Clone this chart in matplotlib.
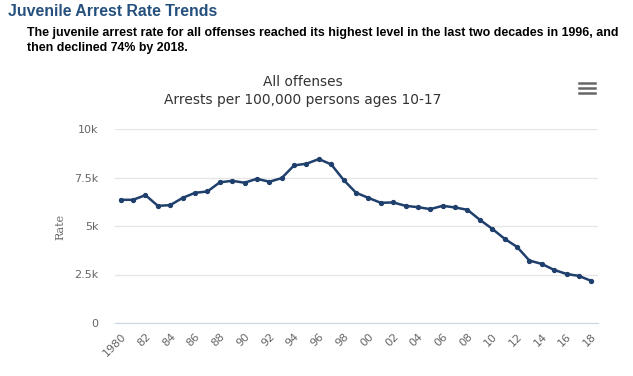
import matplotlib
matplotlib.use('Agg')
from matplotlib import pyplot as plt
from matplotlib.lines import Line2D

# data
years = list(range(1980, 2019))
rate = [6350, 6350, 6590, 6040, 6075, 6450, 6710, 6780, 7250, 7330,
        7230, 7435, 7280, 7470, 8125, 8210, 8450, 8175, 7375, 6715,
        6450, 6195, 6215, 6040, 5970, 5870, 6040, 5955, 5835, 5320,
        4855, 4340, 3925, 3220, 3045, 2735, 2530, 2425, 2170]
tick_years = list(range(1980, 2019, 2))
tick_labels = ['1980'] + ['%02d' % (y % 100) for y in tick_years[1:]]
y_ticks = [0, 2500, 5000, 7500, 10000]
y_labels = ['0', '2.5k', '5k', '7.5k', '10k']

W, H = 633, 376
fig = plt.figure(figsize=(W / 100, H / 100), dpi=100)

# axes placed in pixel coordinates
left, right, top, bottom = 115, 598, 129, 323
ax = fig.add_axes([left / W, 1 - bottom / H, (right - left) / W, (bottom - top) / H])

ax.plot(years, rate, color='#1f3f6d', lw=1.8, marker='o', ms=2.8, zorder=3)
ax.set_xlim(1979.54, 2018.54)
ax.set_ylim(0, 10000)

ax.set_yticks(y_ticks)
ax.set_yticklabels(y_labels)
ax.set_xticks(tick_years)
ax.set_xticklabels(tick_labels, rotation=45, ha='right', rotation_mode='anchor')
ax.tick_params(axis='y', length=0, pad=12, labelsize=8, labelcolor='#666666')
ax.tick_params(axis='x', length=0, pad=6, labelsize=8, labelcolor='#666666')

ax.grid(axis='y', color='#e6e6e6', lw=1)
ax.set_axisbelow(True)
for s in ['top', 'right', 'left']:
    ax.spines[s].set_visible(False)
ax.spines['bottom'].set_color('#ccd6eb')

fig.text(60 / W, 1 - 227 / H, 'Rate', rotation=90, ha='center', va='center',
         fontsize=8, color='#666666', family='DejaVu Serif')

# header texts
fig.text(8 / W, 1 - 11 / H, 'Juvenile Arrest Rate Trends', fontsize=11.4,
         fontweight='bold', color='#25507d', family='Liberation Sans', va='center')
fig.text(27 / W, 1 - 33 / H,
         'The juvenile arrest rate for all offenses reached its highest level in the last two decades in 1996, and',
         fontsize=8.9, fontweight='bold', color='black', family='Liberation Sans', va='center')
fig.text(27 / W, 1 - 48 / H, 'then declined 74% by 2018.',
         fontsize=8.9, fontweight='bold', color='black', family='Liberation Sans', va='center')

fig.text(303 / W, 1 - 82 / H, 'All offenses', fontsize=9.9, color='#333333',
         ha='center', va='center')
fig.text(303 / W, 1 - 100 / H, 'Arrests per 100,000 persons ages 10-17', fontsize=9.9,
         color='#333333', ha='center', va='center')

# menu icon
for yy in [83, 88, 93]:
    fig.add_artist(Line2D([579 / W, 595 / W], [1 - yy / H, 1 - yy / H],
                          color='#666666', lw=1.8, transform=fig.transFigure))

fig.savefig('out.png', dpi=100)
